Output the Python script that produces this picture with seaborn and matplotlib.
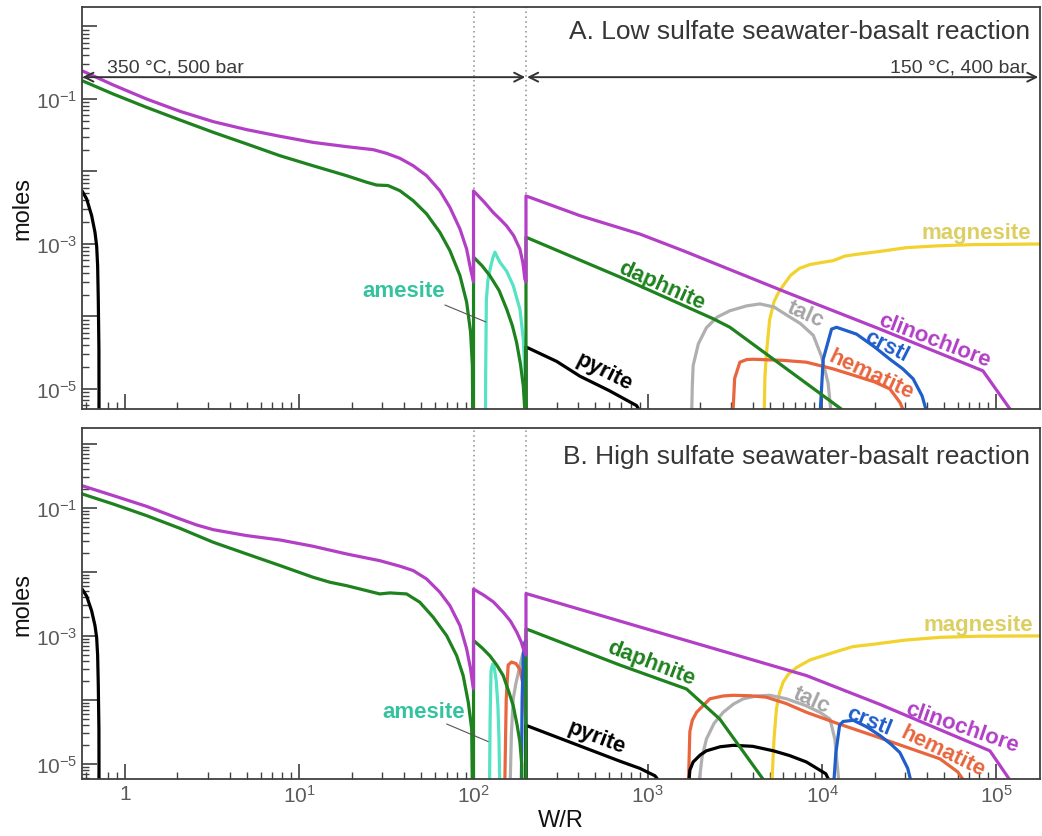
import matplotlib
matplotlib.use("Agg")
import matplotlib.pyplot as plt
import matplotlib.ticker as mticker
import seaborn as sns

# ---------------- data (W/R, moles) ----------------
# Panel A: low sulfate
A_clino_x = [0.567, 0.857, 1.33, 2.07, 3.21, 4.99, 7.75, 12.0, 18.7, 26.6, 31.7, 37.8, 45.1, 53.8, 64.1, 73.2, 83.6, 91.3, 96.2, 100,
             100, 115, 130, 142, 155, 170, 184.6, 192, 197, 200,
             200, 408, 901, 1590, 6250, 21470, 83700, 130000]
A_clino_y = [0.245, 0.156, 0.1, 0.0676, 0.0487, 0.0378, 0.0306, 0.0252, 0.022, 0.02, 0.0178, 0.0152, 0.012, 0.00875, 0.00543, 0.0032, 0.00161, 0.00085, 0.00045, 0.0003,
             0.0054, 0.0038, 0.0027, 0.0022, 0.00177, 0.0013, 0.00085, 0.00055, 0.00033, 0.0003,
             0.0046, 0.00246, 0.00137, 0.00081, 0.000215, 0.000067, 0.0000178, 0.000004]
A_daph_x = [0.567, 0.857, 1.33, 2.07, 3.21, 4.99, 7.75, 12.0, 18.7, 24.4, 27.8, 32.3, 37.8, 45.1, 53.8, 64.1, 73.2, 83.6, 91.3, 96.2, 98.5, 100,
            100, 112, 124, 140, 155, 167, 176.6, 186, 193, 197, 198,
            200, 200, 692, 2373, 2958, 15100]
A_daph_y = [0.179, 0.117, 0.0767, 0.0513, 0.0347, 0.024, 0.0165, 0.012, 0.00875, 0.0071, 0.0065, 0.0064, 0.00543, 0.00395, 0.0026, 0.00145, 0.00081, 0.000366, 0.000158, 0.0000605, 0.0000209, 1e-7,
            0.00066, 0.0005, 0.000366, 0.00023, 0.000126, 0.000075, 0.000044, 0.000022, 0.000011, 0.000005, 1e-7,
            1e-7, 0.00124, 0.00035, 0.000093, 0.000071, 0.000004]
A_pyr1_x = [0.567, 0.603, 0.644, 0.673, 0.688, 0.697, 0.703, 0.709, 0.712]
A_pyr1_y = [0.0054, 0.00418, 0.00246, 0.00145, 0.00094, 0.0005, 0.000173, 0.000035, 1e-7]
A_pyr2_x = [200, 200, 300, 408, 600, 862, 920, 960]
A_pyr2_y = [1e-7, 0.000038, 0.000024, 0.000015, 0.0000095, 0.0000059, 0.0000045, 1e-7]
A_ames_x = [116, 117.5, 118.5, 121, 125, 129, 132.7, 141.7, 155, 169, 184.6, 193, 197, 199]
A_ames_y = [1e-7, 0.00002, 0.00017, 0.00032, 0.00047, 0.00064, 0.00077, 0.00056, 0.00042, 0.000266, 0.000126, 0.000049, 0.000017, 1e-7]
A_hem_x = [3070, 3150, 3375, 3700, 4030, 6000, 8130, 11500, 15780, 20000, 24500, 28000, 30500]
A_hem_y = [0.000004, 0.000014, 0.0000234, 0.0000255, 0.0000257, 0.0000248, 0.0000234, 0.000019, 0.000015, 0.0000125, 0.00001, 0.0000065, 0.000004]
A_talc_x = [1783, 1800, 1820, 1950, 2170, 2500, 2958, 3690, 4400, 5300, 6250, 7500, 8900, 9930, 10830, 11330]
A_talc_y = [0.000004, 0.000011, 0.000021, 0.000042, 0.00007, 0.000098, 0.00012, 0.00014, 0.000149, 0.000135, 0.000105, 0.00008, 0.000055, 0.000028, 0.000012, 0.000004]
A_crstl_x = [9710, 10150, 11330, 12100, 15780, 20000, 24500, 29000, 33300, 37500, 40700]
A_crstl_y = [0.000004, 0.0000257, 0.000067, 0.000071, 0.000057, 0.000038, 0.0000257, 0.000019, 0.0000138, 0.000008, 0.000004]
A_magn_x = [4650, 4700, 4800, 5000, 5300, 5600, 6000, 6600, 7400, 8500, 9700, 11600, 13500, 15800, 21500, 30500, 45000, 73600, 180000]
A_magn_y = [0.000004, 0.000015, 0.000032, 0.00009, 0.00016, 0.00021, 0.00027, 0.00037, 0.00046, 0.00052, 0.00055, 0.00059, 0.00068, 0.00072, 0.00079, 0.00089, 0.00094, 0.00098, 0.001]

# Panel B: high sulfate
B_clino_x = [0.567, 0.857, 1.33, 2.07, 2.58, 3.21, 4.99, 7.75, 12.0, 18.7, 29.0, 37.8, 45.1, 53.8, 64.1, 73.2, 83.6, 91.3, 96.2, 98.5, 100,
             100, 115, 130, 148, 163, 177, 188, 193, 200,
             200, 901, 8130, 21500, 91800, 130000]
B_clino_y = [0.223, 0.156, 0.106, 0.0673, 0.0542, 0.0458, 0.037, 0.0316, 0.0252, 0.0191, 0.015, 0.0123, 0.0105, 0.00777, 0.00482, 0.00297, 0.00145, 0.000627, 0.000305, 0.000189, 0.00015,
             0.0054, 0.0043, 0.0034, 0.00235, 0.0017, 0.00115, 0.0008, 0.00063, 0.0005,
             0.0046, 0.00138, 0.00024, 0.000085, 0.000016, 0.000004]
B_daph_x = [0.567, 0.857, 1.33, 2.07, 3.21, 4.99, 7.75, 12.0, 15.0, 18.7, 29.0, 33.1, 41.3, 49.2, 58.7, 70.1, 80.0, 87.2, 93.3, 97.6, 100,
            100, 112, 124, 136, 148, 160, 169, 178, 184.6, 189, 193,
            200, 200, 692, 1668, 2590, 5050]
B_daph_y = [0.166, 0.115, 0.0759, 0.048, 0.0291, 0.0191, 0.0126, 0.00826, 0.0069, 0.0061, 0.00453, 0.0047, 0.00453, 0.00336, 0.00196, 0.00101, 0.000492, 0.00024, 0.000092, 0.0000352, 1e-7,
            0.00085, 0.00065, 0.00049, 0.00035, 0.00024, 0.00013, 0.000081, 0.00004, 0.000022, 0.00001, 1e-7,
            1e-7, 0.00129, 0.00035, 0.000148, 0.00005, 0.000004]
B_pyr1_x = [0.567, 0.603, 0.644, 0.673, 0.688, 0.697, 0.703, 0.709, 0.712]
B_pyr1_y = [0.0054, 0.00418, 0.00246, 0.00145, 0.00094, 0.0005, 0.000173, 0.000035, 1e-7]
B_pyr2_x = [200, 200, 692, 901, 1100, 1260]
B_pyr2_y = [1e-7, 0.00004, 0.000011, 0.0000085, 0.0000065, 0.000004]
B_pyr3_x = [1707, 1743, 1820, 2000, 2170, 2600, 3090, 4000, 5250, 6500, 8130, 10500, 11600]
B_pyr3_y = [0.000004, 0.000008, 0.0000107, 0.0000138, 0.000016, 0.0000185, 0.0000195, 0.0000188, 0.000016, 0.0000135, 0.0000107, 0.000007, 0.000004]
B_ames_x = [123.5, 124.5, 126, 128.5, 131, 135, 138, 140, 141.5]
B_ames_y = [0.000004, 0.00005, 0.00028, 0.00036, 0.00034, 0.0002, 0.00008, 0.000025, 0.000004]
B_hem1_x = [151, 154, 158, 165, 175, 184.6, 193, 199, 200]
B_hem1_y = [0.000004, 0.0001, 0.00035, 0.00039, 0.00037, 0.0003, 0.000166, 0.00005, 1e-7]
B_hem2_x = [1707, 1743, 1800, 1905, 2270, 2700, 3090, 3900, 4790, 6200, 8130, 12500, 19650, 30000, 47400, 60000, 70500]
B_hem2_y = [0.000004, 0.000032, 0.000048, 0.000064, 0.000104, 0.000115, 0.000118, 0.000116, 0.00011, 0.000088, 0.000064, 0.000042, 0.0000277, 0.0000185, 0.000012, 0.0000075, 0.000004]
B_talc1_x = [162, 165, 169, 175, 181, 187, 193, 198, 200]
B_talc1_y = [0.000004, 0.00003, 0.000104, 0.00018, 0.00027, 0.0004, 0.00056, 0.0005, 1e-7]
B_talc2_x = [1946, 2050, 2170, 2400, 2710, 3100, 3530, 4200, 5010, 6250, 8000, 9710, 11100, 11830, 12600]
B_talc2_y = [0.000004, 0.000013, 0.0000245, 0.000043, 0.000064, 0.000086, 0.000104, 0.000115, 0.000118, 0.000104, 0.000082, 0.000064, 0.00005, 0.0000245, 0.000004]
B_crstl1_x = [188, 190, 193, 197, 200, 200]
B_crstl1_y = [0.000004, 0.0001, 0.0005, 0.0008, 0.00085, 1e-7]
B_crstl2_x = [11600, 12000, 12600, 13200, 15100, 18000, 21500, 25000, 27950, 31000, 33200]
B_crstl2_y = [0.000004, 0.000015, 0.00004, 0.000046, 0.000048, 0.000038, 0.0000277, 0.00002, 0.000015, 0.0000085, 0.000004]
B_magn_x = [5130, 5300, 5470, 5700, 5980, 6400, 7130, 8500, 10150, 12600, 15000, 19650, 30000, 47400, 80000, 180000]
B_magn_y = [0.000004, 0.000025, 0.000072, 0.00013, 0.00019, 0.00025, 0.00032, 0.00042, 0.00049, 0.00059, 0.00068, 0.00074, 0.00086, 0.00095, 0.00099, 0.001]

x_tick_vals = [1, 10, 100, 1000, 10000, 100000]
x_tick_labels = ["1", "$10^{1}$", "$10^{2}$", "$10^{3}$", "$10^{4}$", "$10^{5}$"]
y_tick_vals = [1e-5, 1e-4, 1e-3, 1e-2, 1e-1, 1e0]
y_tick_labels = ["$10^{-5}$", "", "$10^{-3}$", "", "$10^{-1}$", ""]

# ---------------- style ----------------
C_CLINO = "#B23FC6"
C_DAPH = "#1E821E"
C_PYR = "#000000"
C_AMES = "#55E3C3"
C_AMES_T = "#35C29F"
C_HEM = "#E8653D"
C_TALC = "#AFAFAF"
C_TALC_T = "#A4A4A4"
C_CRSTL = "#1F5ECB"
C_MAGN = "#F1D22E"
C_MAGN_T = "#DCCF62"

sns.set_theme(style="ticks")
plt.rcParams['font.family'] = ['Liberation Sans', 'DejaVu Sans']
plt.rcParams['mathtext.fontset'] = 'custom'
plt.rcParams['mathtext.rm'] = 'Liberation Sans'
plt.rcParams['mathtext.it'] = 'Liberation Sans:italic'
plt.rcParams['mathtext.bf'] = 'Liberation Sans:bold'

fig = plt.figure(figsize=(10.42, 8.37), dpi=100)
ax1 = fig.add_axes([0.0787, 0.5102, 0.9194, 0.4803])
ax2 = fig.add_axes([0.0787, 0.0681, 0.9194, 0.4194])

XLIM = (0.567, 1.78e5)
LW = 2.3


def line(ax, x, y, color):
    sns.lineplot(x=x, y=y, ax=ax, color=color, lw=LW, sort=False,
                 estimator=None, legend=False)


def setup(ax):
    ax.set_xscale('log')
    ax.set_yscale('log')
    ax.set_facecolor('white')
    for s in ax.spines.values():
        s.set_color('#404040')
        s.set_linewidth(1.3)
        s.set_visible(True)


def finish(ax, ylim, show_x):
    ax.set_xlim(*XLIM)
    ax.set_ylim(*ylim)
    ax.xaxis.set_major_locator(mticker.FixedLocator(x_tick_vals))
    ax.xaxis.set_minor_locator(mticker.LogLocator(base=10, subs=range(2, 10), numticks=20))
    if show_x:
        ax.xaxis.set_major_formatter(mticker.FixedFormatter(x_tick_labels))
    else:
        ax.xaxis.set_major_formatter(mticker.NullFormatter())
    ax.xaxis.set_minor_formatter(mticker.NullFormatter())
    ax.yaxis.set_major_locator(mticker.FixedLocator(y_tick_vals))
    ax.yaxis.set_major_formatter(mticker.FixedFormatter(y_tick_labels))
    ax.yaxis.set_minor_locator(mticker.LogLocator(base=10, subs=range(2, 10), numticks=20))
    ax.yaxis.set_minor_formatter(mticker.NullFormatter())
    ax.tick_params(axis='both', which='major', direction='in', length=11, width=1.2,
                   color='#404040', labelsize=15, labelcolor='#5A5A5A', top=False, right=False)
    ax.tick_params(axis='both', which='minor', direction='in', length=5, width=1.0,
                   color='#404040', top=False, right=False)
    ax.set_ylabel("moles", fontsize=17, color='#111111', labelpad=2)
    ax.axvline(100, color='#8C8C8C', lw=1.1, ls=(0, (1, 2.2)), zorder=0)
    ax.axvline(200, color='#8C8C8C', lw=1.1, ls=(0, (1, 2.2)), zorder=0)


YLIM_A = (5.3e-6, 1.86)
YLIM_B = (5.8e-6, 1.78)

setup(ax1)
setup(ax2)

# Panel A lines
line(ax1, A_magn_x, A_magn_y, C_MAGN)
line(ax1, A_talc_x, A_talc_y, C_TALC)
line(ax1, A_hem_x, A_hem_y, C_HEM)
line(ax1, A_crstl_x, A_crstl_y, C_CRSTL)
line(ax1, A_ames_x, A_ames_y, C_AMES)
line(ax1, A_pyr1_x, A_pyr1_y, C_PYR)
line(ax1, A_pyr2_x, A_pyr2_y, C_PYR)
line(ax1, A_daph_x, A_daph_y, C_DAPH)
line(ax1, A_clino_x, A_clino_y, C_CLINO)

# Panel B lines
line(ax2, B_magn_x, B_magn_y, C_MAGN)
line(ax2, B_talc1_x, B_talc1_y, C_TALC)
line(ax2, B_talc2_x, B_talc2_y, C_TALC)
line(ax2, B_hem1_x, B_hem1_y, C_HEM)
line(ax2, B_hem2_x, B_hem2_y, C_HEM)
line(ax2, B_crstl1_x, B_crstl1_y, C_CRSTL)
line(ax2, B_crstl2_x, B_crstl2_y, C_CRSTL)
line(ax2, B_ames_x, B_ames_y, C_AMES)
line(ax2, B_pyr1_x, B_pyr1_y, C_PYR)
line(ax2, B_pyr2_x, B_pyr2_y, C_PYR)
line(ax2, B_pyr3_x, B_pyr3_y, C_PYR)
line(ax2, B_daph_x, B_daph_y, C_DAPH)
line(ax2, B_clino_x, B_clino_y, C_CLINO)

finish(ax1, YLIM_A, False)
finish(ax2, YLIM_B, True)
ax1.set_xlabel("")
ax2.set_xlabel("W/R", fontsize=17, color='#111111', labelpad=2)

# Titles
ax1.text(0.99, 0.94, "A. Low sulfate seawater-basalt reaction", transform=ax1.transAxes,
         ha='right', va='center', fontsize=19, color='#363636')
ax2.text(0.99, 0.92, "B. High sulfate seawater-basalt reaction", transform=ax2.transAxes,
         ha='right', va='center', fontsize=19, color='#363636')

# Temperature / pressure arrows (panel A)
ARROW_Y = 0.2
ax1.annotate("", xy=(198, ARROW_Y), xytext=(0.57, ARROW_Y),
             arrowprops=dict(arrowstyle='<->', color='#333333', lw=1.4,
                             shrinkA=0, shrinkB=0, mutation_scale=16))
ax1.annotate("", xy=(1.74e5, ARROW_Y), xytext=(203, ARROW_Y),
             arrowprops=dict(arrowstyle='<->', color='#333333', lw=1.4,
                             shrinkA=0, shrinkB=0, mutation_scale=16))
ax1.text(0.79, ARROW_Y * 1.07, "350 °C, 500 bar", ha='left', va='bottom',
         fontsize=14, color='#3A3A3A')
ax1.text(1.5e5, ARROW_Y * 1.07, "150 °C, 400 bar", ha='right', va='bottom',
         fontsize=14, color='#3A3A3A')

# Curve labels
lab = dict(fontsize=16, fontweight='bold', ha='center', va='center')
# Panel A
ax1.text(39.8, 2.25e-4, "amesite", color=C_AMES_T, **lab)
ax1.plot([68.5, 117.8], [1.44e-4, 8.4e-5], color='#555555', lw=0.8)
ax1.text(1205, 2.66e-4, "daphnite", color=C_DAPH, rotation=-24, **lab)
ax1.text(560, 1.77e-5, "pyrite", color=C_PYR, rotation=-27, **lab)
ax1.text(8040, 1.08e-4, "talc", color=C_TALC_T, rotation=-24, **lab)
ax1.text(23450, 3.95e-5, "crstl", color=C_CRSTL, rotation=-27, **lab)
ax1.text(19230, 1.61e-5, "hematite", color=C_HEM, rotation=-25, **lab)
ax1.text(44360, 4.79e-5, "clinochlore", color=C_CLINO, rotation=-21, **lab)
ax1.text(76300, 1.42e-3, "magnesite", color=C_MAGN_T, **lab)
# Panel B
ax2.text(51.9, 6.7e-5, "amesite", color=C_AMES_T, **lab)
ax2.plot([70.1, 121.4], [4.2e-5, 2.23e-5], color='#555555', lw=0.8)
ax2.text(1038, 3.79e-4, "daphnite", color=C_DAPH, rotation=-21, **lab)
ax2.text(508, 2.64e-5, "pyrite", color=C_PYR, rotation=-21, **lab)
ax2.text(8710, 1.01e-4, "talc", color=C_TALC_T, rotation=-24, **lab)
ax2.text(18620, 4.75e-5, "crstl", color=C_CRSTL, rotation=-22, **lab)
ax2.text(49550, 1.61e-5, "hematite", color=C_HEM, rotation=-26, **lab)
ax2.text(63100, 3.74e-5, "clinochlore", color=C_CLINO, rotation=-19, **lab)
ax2.text(78700, 1.49e-3, "magnesite", color=C_MAGN_T, **lab)

fig.savefig("out.png", dpi=100, facecolor='white')
